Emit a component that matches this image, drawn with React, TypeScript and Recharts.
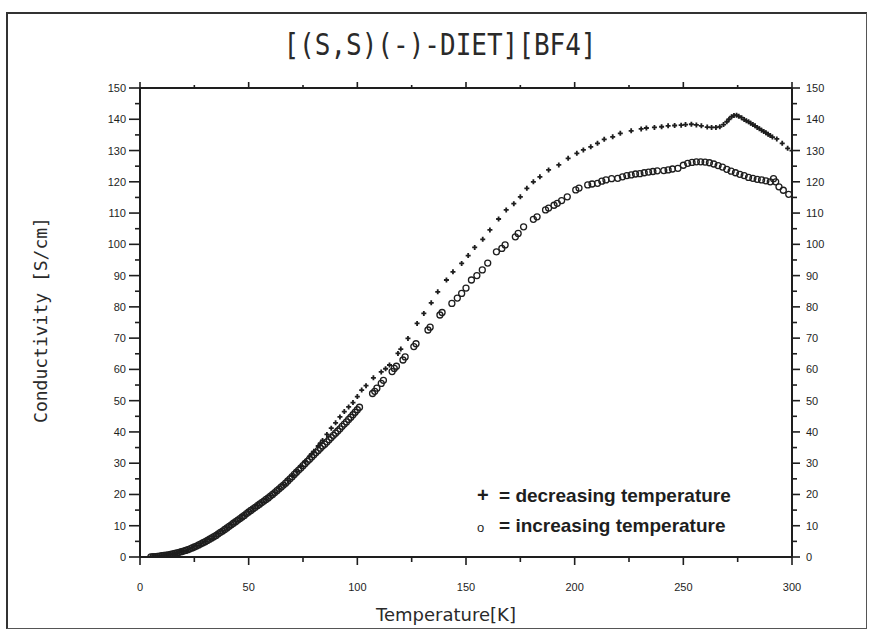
import React from 'react';
import { ScatterChart, Scatter, XAxis, YAxis, Legend } from 'recharts';

// Decreasing temperature series (+)
const decTemps = [
  5, 6, 7, 8, 9, 10, 11, 12, 13, 14, 15, 16, 17, 18, 19, 20, 22, 24, 26, 28, 30, 32, 34, 36, 38, 40,
  42, 44, 46, 48, 50, 52, 54, 56, 58, 60, 62, 64, 66, 68, 70, 72, 74, 76, 78, 79, 80, 82, 83, 84, 86,
  88, 90, 92, 94, 96, 98, 100, 102, 104, 107.4, 111, 113, 114.8, 118.7, 120, 123.3, 127.5, 130.6, 134,
  137, 141, 144, 148, 151, 154, 157.7, 161, 165, 168.5, 172, 175, 178, 181, 184, 188, 192.7, 197, 201,
  204, 207.4, 210.5, 213.6, 217.5, 221, 226, 230.6, 233, 236.7, 240, 243, 246, 249, 251, 253.7, 256,
  258.3, 261, 263, 265, 266.8, 268.5, 270, 271, 272.2, 273.3, 274.5, 275.5, 276.8, 278, 279, 280, 281,
  282, 283, 284, 285, 286, 287, 288, 289, 290, 291, 293, 295.5, 298, 300,
];
const decCond = [
  0.1, 0.15, 0.2, 0.25, 0.35, 0.45, 0.55, 0.65, 0.75, 0.9, 1.05, 1.2, 1.35, 1.55, 1.75, 1.95, 2.4, 2.95,
  3.55, 4.25, 4.95, 5.75, 6.55, 7.45, 8.35, 9.35, 10.35, 11.35, 12.35, 13.4, 14.45, 15.45, 16.5, 17.5,
  18.5, 19.6, 20.7, 21.9, 23.1, 24.5, 25.9, 27.4, 28.9, 30.5, 32.2, 33.0, 33.8, 35.5, 36.4, 37.3, 39.2,
  41.2, 42.9, 44.8, 46.5, 48.0, 49.4, 51.3, 53.4, 54.8, 57.3, 59.2, 60.2, 61.4, 65.1, 66.5, 69.9, 74.7,
  77.9, 81.3, 84.8, 88.6, 91.2, 93.9, 96.4, 99.0, 101.6, 104.6, 108.1, 111, 113, 115.2, 117.9, 120,
  121.6, 123.8, 125.4, 127.5, 129.1, 130.2, 131.2, 132.3, 133.6, 134.4, 135.5, 136.3, 136.9, 137.2,
  137.4, 137.6, 137.9, 138.0, 138.1, 138.3, 138.4, 138.2, 137.9, 137.5, 137.4, 137.4, 137.6, 138.3,
  139.2, 140.0, 140.8, 141.2, 141.3, 141.0, 140.5, 139.9, 139.5, 139.2, 138.7, 138.3, 137.9, 137.4,
  137.0, 136.5, 136.1, 135.7, 135.2, 134.8, 134.3, 133.7, 132.3, 130.7, 130.0,
];

// Increasing temperature series (o)
const incTemps = [
  5, 6, 7, 8, 9, 10, 11, 12, 13, 14, 15, 16, 17, 18, 19, 20, 21, 22, 23, 24, 25, 26, 27, 28, 29, 30,
  31, 32, 33, 34, 35, 36, 37, 38, 39, 40, 41, 42, 43, 44, 45, 46, 47, 48, 49, 50, 51, 52, 53, 54, 55,
  56, 57, 58, 59, 60, 61, 62, 63, 64, 65, 66, 67, 68, 69, 70, 71, 72, 73, 74, 75, 76, 77, 78, 79, 80,
  81, 82, 83, 84, 85, 86, 87, 88, 89, 90, 91, 92, 93, 94, 95, 96, 97, 98, 99, 100, 101, 107, 108, 109,
  111, 112, 116, 117, 118, 121, 122, 126, 127, 132.5, 133.5, 138, 139, 143.5, 146, 148, 150, 152.5,
  155, 157.5, 160, 164, 166.5, 168, 172.7, 174, 176.5, 181, 182.7, 186.6, 188, 190.5, 192, 194, 196.6,
  200.5, 202, 206, 208, 210.5, 212.5, 214.4, 217, 219.8, 222, 224, 226, 228, 230, 232, 234, 236, 238,
  241, 243, 245, 247.5, 250, 252, 254, 256, 258, 260, 262, 264, 266, 268, 270, 272, 274, 276, 278, 280,
  282, 284, 286, 288, 290, 291.5, 292.5, 294, 296, 298.5,
];
const incCond = [
  0.05, 0.1, 0.15, 0.2, 0.3, 0.4, 0.5, 0.6, 0.7, 0.85, 1.0, 1.15, 1.3, 1.5, 1.7, 1.9, 2.1, 2.35, 2.6,
  2.9, 3.2, 3.5, 3.85, 4.2, 4.55, 4.9, 5.3, 5.7, 6.1, 6.5, 6.9, 7.4, 7.9, 8.3, 8.8, 9.3, 9.8, 10.3,
  10.8, 11.3, 11.8, 12.3, 12.8, 13.3, 13.9, 14.4, 14.9, 15.4, 15.9, 16.4, 16.9, 17.4, 17.9, 18.4, 18.9,
  19.5, 20.0, 20.6, 21.2, 21.8, 22.4, 23.0, 23.6, 24.3, 25.0, 25.7, 26.4, 27.1, 27.8, 28.5, 29.2, 29.9,
  30.6, 31.3, 32.0, 32.7, 33.4, 34.1, 34.8, 35.5, 36.1, 36.8, 37.5, 38.2, 38.9, 39.6, 40.3, 41.0, 41.8,
  42.5, 43.2, 44.0, 44.7, 45.5, 46.3, 47.1, 47.9, 52.3, 53.0, 54.0, 55.5, 56.5, 59.3, 60.3, 61.0, 63,
  64, 67.3, 68.2, 72.6, 73.5, 77.4, 78.2, 81.1, 82.8, 84.3, 86.0, 88.6, 90.0, 91.8, 94.0, 97.6, 98.7,
  99.8, 102.4, 103.5, 105.6, 108, 108.8, 111, 111.6, 112.5, 113.1, 114, 115.2, 117.4, 118, 119, 119.3,
  119.5, 120.2, 120.6, 121, 121.1, 121.6, 122, 122.2, 122.5, 122.6, 122.9, 123.1, 123.3, 123.5, 123.6,
  123.8, 124.1, 124.3, 125.3, 125.9, 126.2, 126.4, 126.4, 126.3, 126.1, 125.7, 125.2, 124.7, 124.0,
  123.4, 122.9, 122.4, 122, 121.4, 121.1, 120.8, 120.6, 120.3, 120.0, 121.0, 120.0, 118.4, 117.3, 116,
];

const xTicks = [0, 25, 50, 75, 100, 125, 150, 175, 200, 225, 250, 275, 300];
const yTicks = [
  0, 5, 10, 15, 20, 25, 30, 35, 40, 45, 50, 55, 60, 65, 70, 75, 80, 85, 90, 95, 100, 105, 110, 115, 120,
  125, 130, 135, 140, 145, 150,
];

const titleText = '[(S,S)(-)-DIET][BF4]';
const xTitle = 'Temperature[K]';
const yTitle = 'Conductivity [S/cm]';
const decName = 'decreasing temperature';
const incName = 'increasing temperature';

const decData = decTemps.map((t, i) => ({ T: t, C: decCond[i] }));
const incData = incTemps.map((t, i) => ({ T: t, C: incCond[i] }));

const INK = '#1e1e1e';
const TICK_FONT = '"Liberation Sans", Arial, sans-serif';

const BottomTick = (props: any) => {
  const { x, y, payload } = props;
  const v = payload.value;
  const major = v % 50 === 0;
  return (
    <g>
      <line x1={x} y1={y} x2={x} y2={y + (major ? 8 : 5)} stroke={INK} strokeWidth={1.6} />
      {major && (
        <text x={x} y={y + 34} textAnchor="middle" fontSize={11} fill={INK} fontFamily={TICK_FONT}>
          {v}
        </text>
      )}
    </g>
  );
};

const TopTick = (props: any) => {
  const { x, y, payload } = props;
  const major = payload.value % 50 === 0;
  return <line x1={x} y1={y} x2={x} y2={y - (major ? 6 : 3)} stroke={INK} strokeWidth={1.6} />;
};

const LeftTick = (props: any) => {
  const { x, y, payload } = props;
  const v = payload.value;
  const major = v % 10 === 0;
  return (
    <g>
      <line x1={x} y1={y} x2={x - (major ? 11 : 5)} y2={y} stroke={INK} strokeWidth={1.6} />
      {major && (
        <text x={x - 14} y={y + 4} textAnchor="end" fontSize={11} fill={INK} fontFamily={TICK_FONT}>
          {v}
        </text>
      )}
    </g>
  );
};

const RightTick = (props: any) => {
  const { x, y, payload } = props;
  const v = payload.value;
  const major = v % 10 === 0;
  return (
    <g>
      <line x1={x} y1={y} x2={x + (major ? 8 : 5)} y2={y} stroke={INK} strokeWidth={1.6} />
      {major && (
        <text x={x + 14} y={y + 4} textAnchor="start" fontSize={11} fill={INK} fontFamily={TICK_FONT}>
          {v}
        </text>
      )}
    </g>
  );
};

const PlusShape = (props: any) => {
  const { cx, cy } = props;
  return (
    <path
      d={`M${cx - 2.5},${cy}H${cx + 2.5}M${cx},${cy - 2.5}V${cy + 2.5}`}
      stroke={INK}
      strokeWidth={1.8}
      fill="none"
    />
  );
};

const CircleShape = (props: any) => {
  const { cx, cy } = props;
  return <circle cx={cx} cy={cy} r={3} stroke={INK} strokeWidth={1.3} fill="none" />;
};

const LegendContent = () => (
  <div
    style={{
      fontFamily: TICK_FONT,
      fontWeight: 'bold',
      fontSize: 19,
      color: INK,
      lineHeight: '30px',
      whiteSpace: 'nowrap',
    }}
  >
    <div>
      <span style={{ display: 'inline-block', width: 22, fontSize: 20 }}>+</span>
      <span>= {decName}</span>
    </div>
    <div>
      <span style={{ display: 'inline-block', width: 22, fontSize: 13, fontWeight: 'normal' }}>o</span>
      <span>= {incName}</span>
    </div>
  </div>
);

export default function App() {
  return (
    <div
      style={{
        position: 'absolute',
        left: 0,
        top: 0,
        width: 870,
        height: 631,
        background: '#fff',
        overflow: 'hidden',
      }}
    >
      <div
        style={{
          position: 'absolute',
          left: 6,
          top: 12,
          width: 858,
          height: 614,
          borderTop: '2px solid #333',
          borderLeft: '2px solid #333',
          borderRight: '1px solid #555',
          borderBottom: '1px solid #555',
        }}
      />
      <div
        style={{
          position: 'absolute',
          left: 0,
          width: 880,
          top: 30,
          textAlign: 'center',
          fontFamily: '"DejaVu Sans Mono", monospace',
          fontSize: 26,
          color: '#2a2a2a',
          transform: 'scaleY(1.15)',
        }}
      >
        {titleText}
      </div>
      <div
        style={{
          position: 'absolute',
          left: 40,
          top: 320,
          transform: 'translate(-50%, -50%) rotate(-90deg)',
          fontFamily: '"DejaVu Sans Mono", monospace',
          fontSize: 18,
          color: '#2a2a2a',
          whiteSpace: 'nowrap',
        }}
      >
        {yTitle}
      </div>
      <div
        style={{
          position: 'absolute',
          left: 446,
          top: 614,
          transform: 'translate(-50%, -50%)',
          fontFamily: '"DejaVu Sans", sans-serif',
          fontSize: 18,
          color: '#2a2a2a',
          whiteSpace: 'nowrap',
        }}
      >
        {xTitle}
      </div>
      <div style={{ position: 'absolute', left: 0, top: 0 }}>
        <ScatterChart width={870} height={631} margin={{ top: 78, right: 38, bottom: 44, left: 100 }}>
          <XAxis
            xAxisId="bottom"
            type="number"
            dataKey="T"
            domain={[0, 300]}
            ticks={xTicks}
            interval={0}
            height={30}
            tickSize={0}
            tickMargin={0}
            tick={<BottomTick />}
            tickLine={false}
            axisLine={{ stroke: INK, strokeWidth: 2 }}
            allowDataOverflow
          />
          <XAxis
            xAxisId="top"
            orientation="top"
            type="number"
            dataKey="T"
            domain={[0, 300]}
            ticks={xTicks}
            interval={0}
            height={10}
            tickSize={0}
            tickMargin={0}
            tick={<TopTick />}
            tickLine={false}
            axisLine={{ stroke: INK, strokeWidth: 2 }}
            allowDataOverflow
          />
          <YAxis
            yAxisId="left"
            type="number"
            dataKey="C"
            domain={[0, 150]}
            ticks={yTicks}
            interval={0}
            width={40}
            tickSize={0}
            tickMargin={0}
            tick={<LeftTick />}
            tickLine={false}
            axisLine={{ stroke: INK, strokeWidth: 2 }}
            allowDataOverflow
          />
          <YAxis
            yAxisId="right"
            orientation="right"
            type="number"
            dataKey="C"
            domain={[0, 150]}
            ticks={yTicks}
            interval={0}
            width={40}
            tickSize={0}
            tickMargin={0}
            tick={<RightTick />}
            tickLine={false}
            axisLine={{ stroke: INK, strokeWidth: 2 }}
            allowDataOverflow
          />
          <Legend
            layout="vertical"
            verticalAlign="middle"
            align="center"
            wrapperStyle={{ position: 'absolute', left: 477, top: 480, width: 300, height: 60 }}
            content={<LegendContent />}
          />
          <Scatter
            name={decName}
            data={decData}
            xAxisId="bottom"
            yAxisId="left"
            shape={<PlusShape />}
            isAnimationActive={false}
          />
          <Scatter
            name={incName}
            data={incData}
            xAxisId="top"
            yAxisId="right"
            shape={<CircleShape />}
            isAnimationActive={false}
          />
        </ScatterChart>
      </div>
    </div>
  );
}
